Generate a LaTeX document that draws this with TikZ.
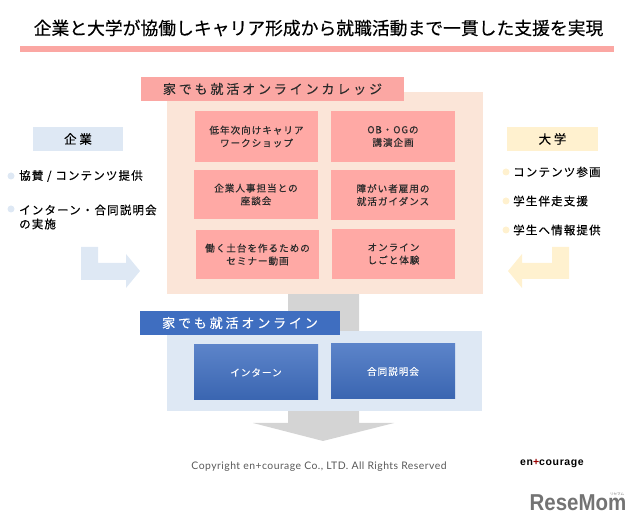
\documentclass[tikz,border=0pt]{standalone}
\usepackage{fontspec}
\setmainfont{Noto Sans CJK JP}
\newfontfamily\titlefont[FakeBold=0.3]{Noto Sans CJK JP}
\newfontfamily\spacedfont[LetterSpace=10,FakeBold=0.3]{Noto Sans CJK JP}
\newfontfamily\tabfont[LetterSpace=22,FakeBold=0.2]{Noto Sans CJK JP}
\newfontfamily\latinfont[LetterSpace=4.5]{Lato}
\newfontfamily\logofont[BoldFont=Liberation Sans Bold,LetterSpace=6]{Liberation Sans}
\newfontfamily\markfont[BoldFont=Liberation Sans Bold]{Liberation Sans}
\definecolor{barpink}{HTML}{FBA7A3}
\definecolor{cellpink}{HTML}{FFA9A5}
\definecolor{peach}{HTML}{FBE5D8}
\definecolor{paleblue}{HTML}{DEE8F4}
\definecolor{paleyellow}{HTML}{FFF1CF}
\definecolor{arrowgray}{HTML}{D4D4D4}
\definecolor{tabblue}{HTML}{3F6EC0}
\definecolor{inktext}{HTML}{2B2B2B}
\begin{document}
\begin{tikzpicture}[x=1pt,y=-1pt]
	\tikzstyle{panel}=[inner sep=0pt,outer sep=0pt]
	\tikzstyle{cell}=[panel,fill=cellpink,text=inktext,align=center,font=\spacedfont\fontsize{9.6}{12.8}\selectfont]
	\tikzstyle{bluecell}=[panel,top color=tabblue!85!white,bottom color=tabblue!92!black,text=white,align=center,font=\spacedfont\fontsize{9.6}{12.8}\selectfont]
	\tikzstyle{sidehead}=[panel,minimum height=24pt,text=black,font=\tabfont\fontsize{12.5}{15}\selectfont]
	\tikzstyle{item}=[inner sep=0pt,anchor=west,align=left,text=black,font=\spacedfont\fontsize{11.5}{14}\selectfont]
	\tikzstyle{dot}=[circle,inner sep=0pt,minimum size=7pt]

	\useasboundingbox (0,0) rectangle (640,526);

	% heading
	\node [inner sep=0pt,text=black,font=\titlefont\fontsize{17.8}{20}\selectfont] (title) at (318.5,28) {企業と大学が協働しキャリア形成から就職活動まで一貫した支援を実現};
	\node [panel,fill=barpink,minimum width=594pt,minimum height=6.5pt] (bar) at (317,49) {};

	% gray arrow behind the panels
	\fill [arrowgray] (288,290) -- (359,290) -- (359,423) -- (394,423) -- (323,441) -- (253,423) -- (288,423) -- cycle;

	% college panel
	\node [panel,fill=peach,minimum width=316pt,minimum height=202pt] (college) at (325,193) {};
	\node [panel,fill=barpink,minimum width=263pt,minimum height=24pt,text=inktext,font=\tabfont\fontsize{13}{15}\selectfont] (collegetab) at (272.5,89) {家でも就活オンラインカレッジ};
	\node [cell,minimum width=123pt,minimum height=51pt] (c1) at (256.5,136.5) {低年次向けキャリア\\ワークショップ};
	\node [cell,minimum width=124pt,minimum height=51pt] (c2) at (393,136.5) {OB・OGの\\講演企画};
	\node [cell,minimum width=124pt,minimum height=49pt] (c3) at (256,194.5) {企業人事担当との\\座談会};
	\node [cell,minimum width=124pt,minimum height=50pt] (c4) at (393,195) {障がい者雇用の\\就活ガイダンス};
	\node [cell,minimum width=123pt,minimum height=49pt] (c5) at (257.5,254.5) {働く土台を作るための\\セミナー動画};
	\node [cell,minimum width=123pt,minimum height=50pt] (c6) at (393.5,254) {オンライン\\しごと体験};

	% online panel
	\node [panel,fill=paleblue,minimum width=315pt,minimum height=80pt] (online) at (324.5,371) {};
	\node [panel,fill=tabblue,minimum width=200pt,minimum height=24pt,text=white,font=\tabfont\fontsize{13}{15}\selectfont] (onlinetab) at (240,323) {家でも就活オンライン};
	\node [bluecell,minimum width=124pt,minimum height=55pt] (b1) at (256,372.5) {インターン};
	\node [bluecell,minimum width=124pt,minimum height=55pt] (b2) at (393,371.5) {合同説明会};

	% company side
	\node [sidehead,fill=paleblue,minimum width=90pt] (company) at (78,139) {企業};
	\node [dot,fill=paleblue] (d1) at (11,176) {};
	\node [item] (t1) at (19,176) {協賛 / コンテンツ提供};
	\node [dot,fill=paleblue] (d2) at (11,209) {};
	\node [item] (t2) at (19,217) {インターン・合同説明会\\の実施};
	\fill [paleblue] (81,247) -- (98,247) -- (98,263) -- (126,263) -- (126,254) -- (140,271) -- (126,288) -- (126,280) -- (81,280) -- cycle;

	% university side
	\node [sidehead,fill=paleyellow,minimum width=91pt] (univ) at (552.5,139) {大学};
	\node [dot,fill=paleyellow] (d3) at (506,172) {};
	\node [item] (t3) at (513,172) {コンテンツ参画};
	\node [dot,fill=paleyellow] (d4) at (506,201) {};
	\node [item] (t4) at (513,201) {学生伴走支援};
	\node [dot,fill=paleyellow] (d5) at (506,230) {};
	\node [item] (t5) at (513,230) {学生へ情報提供};
	\fill [paleyellow] (569,247) -- (552,247) -- (552,263) -- (522,263) -- (522,254) -- (508,271) -- (522,288) -- (522,279) -- (569,279) -- cycle;

	% footer
	\node [inner sep=0pt,text=black!65,font=\latinfont\fontsize{10.4}{12}\selectfont] (copy) at (319,467) {Copyright en+courage Co., LTD. All Rights Reserved};
	\node [inner sep=0pt,text=black,font=\logofont\bfseries\fontsize{10.5}{12}\selectfont] (brand) at (552,464) {en{\color{red!60!black}+}courage};
	\node [inner sep=0pt,text=black!55,xscale=0.89,transform shape,font=\markfont\bfseries\fontsize{23}{25}\selectfont] (resemom) at (578,503) {ReseMom};
	\node [inner sep=0pt,text=black!55,font=\fontsize{3.5}{4}\selectfont] (ruby) at (617,494) {リセマム};
\end{tikzpicture}
\end{document}
